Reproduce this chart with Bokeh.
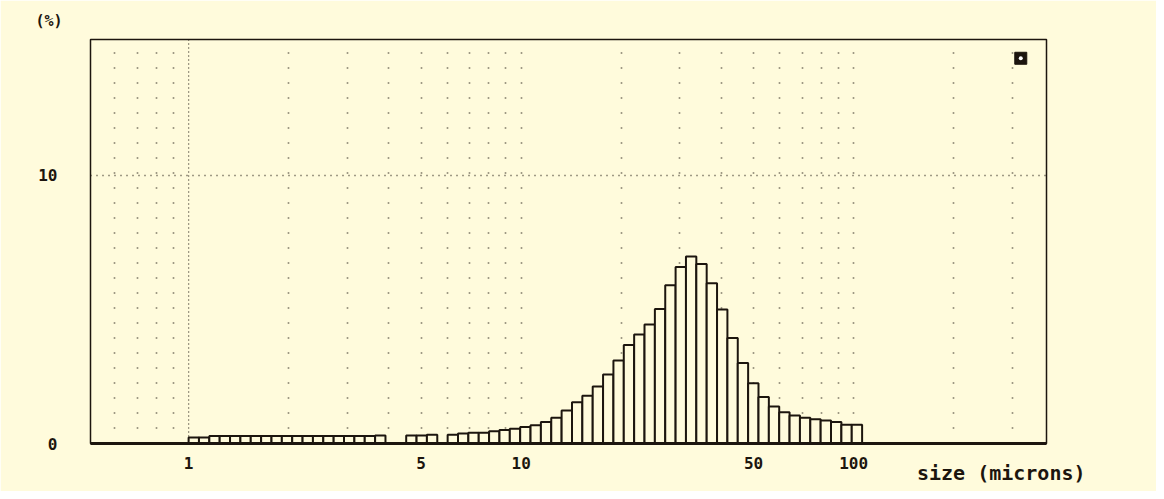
import numpy as np
from bokeh.plotting import figure
from bokeh.models import FixedTicker, Span, NumeralTickFormatter, ColumnDataSource, Title
from bokeh.embed import file_html
from bokeh.resources import INLINE

# ---- data ----
size_min = 1.0          # microns, left edge of first bin
size_max = 106.0        # microns, right edge of last bin
volume_pct = [0.22, 0.22, 0.28, 0.28, 0.28, 0.28, 0.28, 0.28, 0.28, 0.28,
              0.28, 0.28, 0.28, 0.28, 0.28, 0.28, 0.28, 0.28, 0.30, 0.00,
              0.00, 0.30, 0.30, 0.33, 0.00, 0.33, 0.37, 0.40, 0.40, 0.46,
              0.50, 0.55, 0.62, 0.68, 0.80, 0.96, 1.23, 1.54, 1.78, 2.13,
              2.57, 3.10, 3.67, 4.07, 4.44, 5.02, 5.90, 6.58, 6.98, 6.70,
              5.98, 5.00, 3.94, 3.00, 2.25, 1.73, 1.38, 1.17, 1.04, 0.96,
              0.90, 0.86, 0.80, 0.70, 0.70]
x_ticks = [1, 5, 10, 50, 100]
y_ticks = [0, 10]
x_grid = [0.6, 0.7, 0.8, 0.9, 2, 3, 4, 5, 6, 7, 8, 9, 10,
          20, 30, 40, 50, 60, 70, 80, 90, 100, 200, 300]
corner_marker = ([318.0], [14.37])

edges = np.geomspace(size_min, size_max, len(volume_pct) + 1)
src = ColumnDataSource(dict(left=edges[:-1], right=edges[1:],
                            top=volume_pct, bottom=[0] * len(volume_pct)))

CREAM = "#fffbdc"
INK = "#1c150e"
FONT = "DejaVu Sans Mono"

p = figure(frame_width=956, frame_height=404, x_axis_type="log",
           x_range=(0.507, 380), y_range=(0, 15.07),
           output_backend="svg", toolbar_location=None,
           min_border_left=90, min_border_right=110,
           min_border_top=39, min_border_bottom=48)
p.background_fill_color = CREAM
p.border_fill_color = CREAM
p.outline_line_color = INK
p.outline_line_width = 1.5

# grid
p.xgrid.ticker = FixedTicker(ticks=x_grid)
p.xgrid.grid_line_color = INK
p.xgrid.grid_line_alpha = 0.85
p.xgrid.grid_line_width = 1.6
p.xgrid.grid_line_dash = "1 14"
p.ygrid.ticker = FixedTicker(ticks=[10])
p.ygrid.grid_line_color = INK
p.ygrid.grid_line_alpha = 0.85
p.ygrid.grid_line_width = 1.6
p.ygrid.grid_line_dash = "1 5"
p.add_layout(Span(location=1, dimension="height", line_color=INK,
                  line_alpha=0.85, line_width=1.3, line_dash="1 3"))

p.quad(left="left", right="right", top="top", bottom="bottom", source=src,
       fill_color=CREAM, line_color=INK, line_width=2)

p.scatter(x=corner_marker[0], y=corner_marker[1], marker="square", size=12,
          fill_color=INK, line_color=INK)
p.scatter(x=corner_marker[0], y=corner_marker[1], marker="circle", size=4,
          fill_color="white", line_color=None)

# axes
p.xaxis.ticker = FixedTicker(ticks=x_ticks)
p.xaxis.formatter = NumeralTickFormatter(format="0")
p.xaxis.axis_line_color = INK
p.xaxis.axis_line_width = 3
p.xaxis.major_tick_line_color = None
p.xaxis.minor_tick_line_color = None
p.xaxis.major_label_standoff = 7
p.yaxis.ticker = FixedTicker(ticks=y_ticks)
p.yaxis.axis_line_color = None
p.yaxis.major_tick_line_color = None
p.yaxis.minor_tick_line_color = None
p.yaxis.major_label_standoff = 27
for ax in (p.xaxis, p.yaxis):
    ax.major_label_text_font = FONT
    ax.major_label_text_font_style = "bold"
    ax.major_label_text_font_size = "16px"
    ax.major_label_text_color = INK

p.add_layout(Title(text="(%)", align="left", offset=-55, standoff=19,
                   text_font=FONT, text_font_size="15px",
                   text_font_style="bold", text_color=INK), "above")
p.add_layout(Title(text="size (microns)", align="right", offset=-39, standoff=-27,
                   text_font=FONT, text_font_size="20px",
                   text_font_style="bold", text_color=INK), "below")

open("out.html", "w").write(file_html(p, INLINE))
